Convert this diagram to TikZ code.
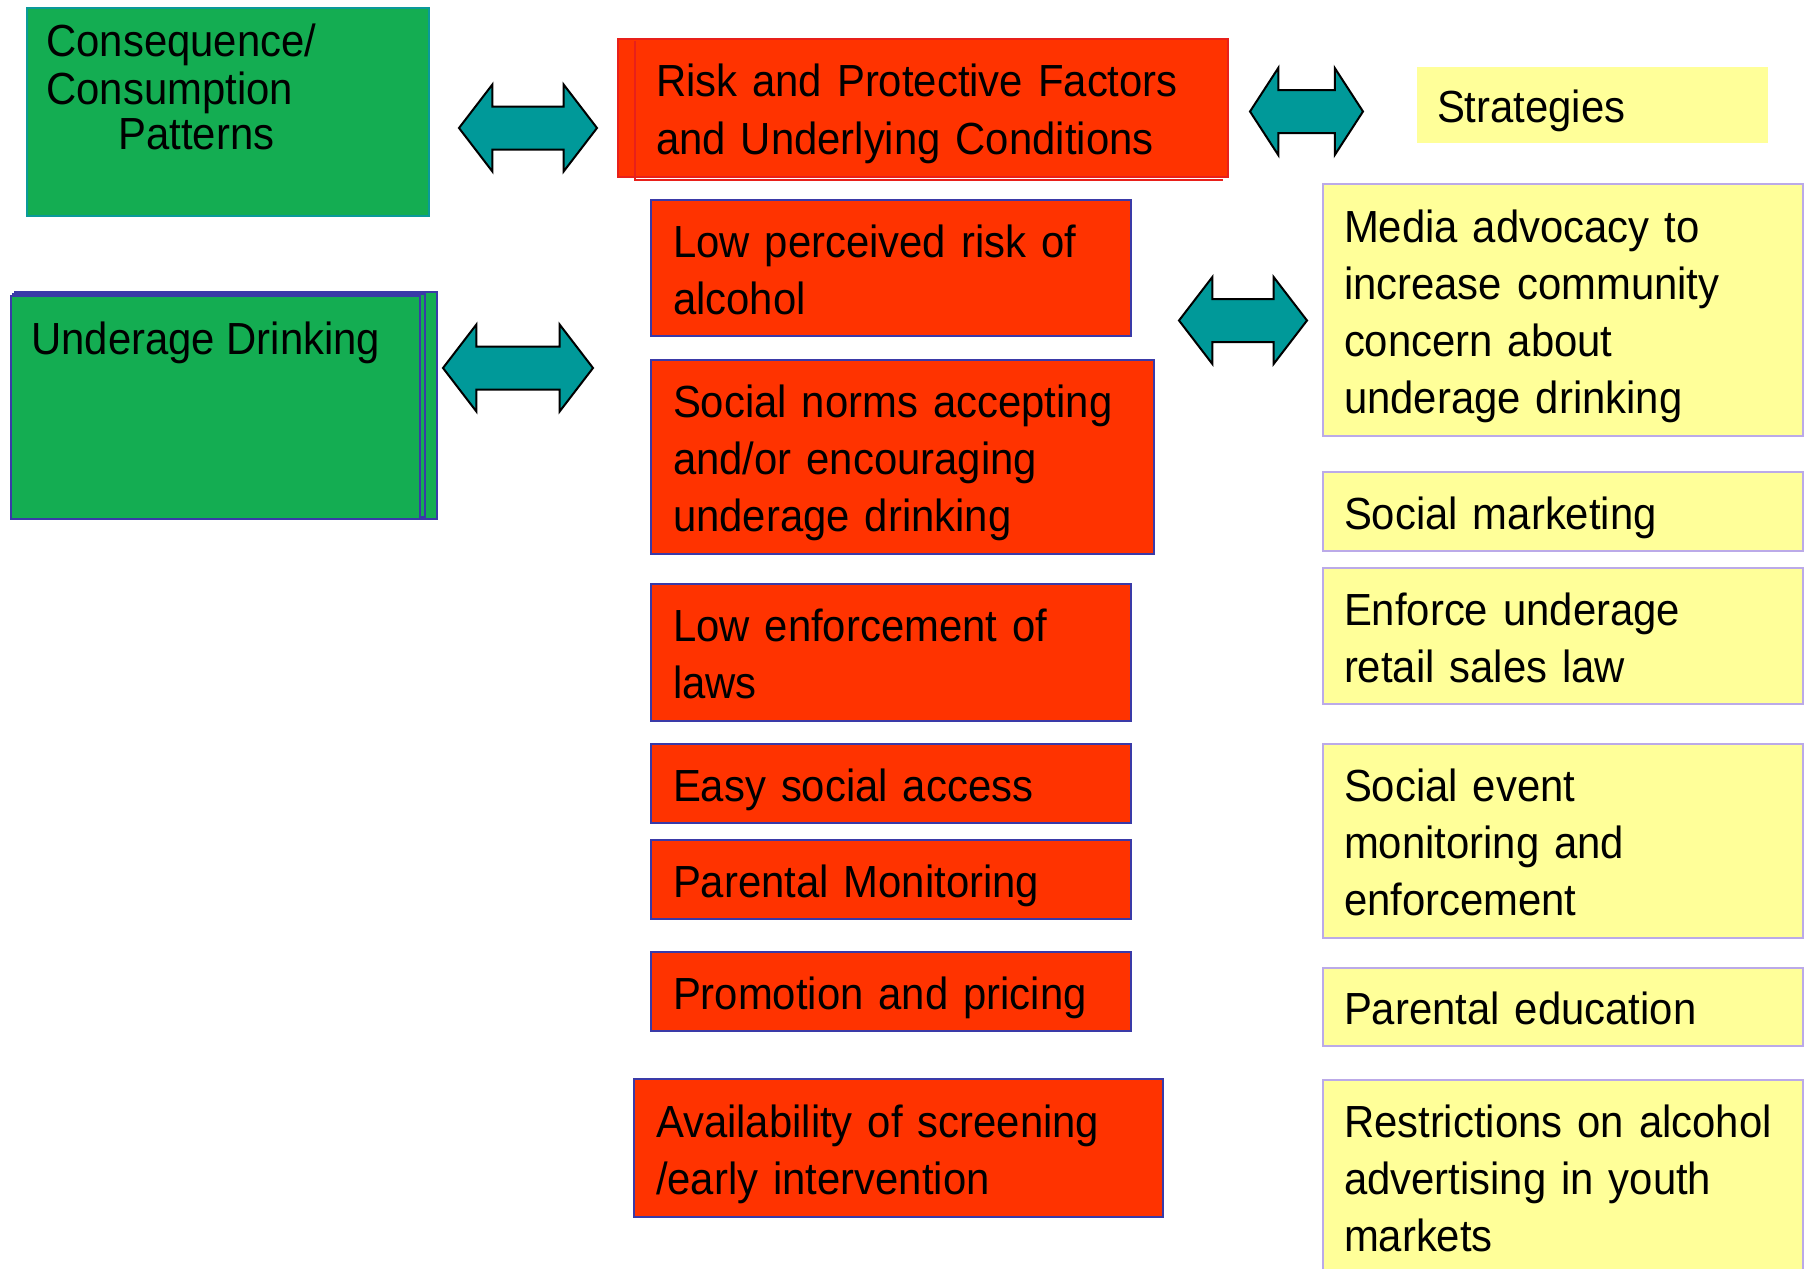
\documentclass[tikz,border=0pt]{standalone}
\usepackage{fontspec}
\setmainfont[FakeStretch=0.93]{Liberation Sans}
\usetikzlibrary{positioning,shapes.arrows}

\definecolor{riskred}{HTML}{FF3300}
\definecolor{edgeblue}{HTML}{3A3AA8}
\definecolor{titlered}{HTML}{E8201A}
\definecolor{leafgreen}{HTML}{14AD52}
\definecolor{edgeteal}{HTML}{0A9A9A}
\definecolor{stratyellow}{HTML}{FFFF99}
\definecolor{edgelilac}{HTML}{BBAAE8}
\definecolor{arrowteal}{HTML}{009999}

\newcommand{\boxfont}{\fontsize{22.5}{28.5}\selectfont}

\tikzset{
  textrules/.style={execute at begin node={\rule{0pt}{22.5pt}}, execute at end node={\rule[-5pt]{0pt}{0pt}}},
  riskbox/.style={draw=edgeblue, fill=riskred, line width=1pt, inner xsep=11pt, inner ysep=0pt, align=left, font=\boxfont, textrules},
  stratbox/.style={draw=edgelilac, fill=stratyellow, line width=1pt, inner xsep=10.5pt, inner ysep=0pt, align=left, font=\boxfont, textrules},
  greenbox/.style={draw=edgeblue, fill=leafgreen, line width=1pt},
  greentext/.style={inner sep=0pt, align=left, font=\fontsize{22.5}{22.5}\selectfont},
  dblarrow/.style={double arrow, draw=black, fill=arrowteal, line width=1pt, inner xsep=0pt, inner ysep=10.25pt, minimum width=42.5pt, double arrow head extend=11pt, double arrow tip angle=105}
}

\begin{document}
\begin{tikzpicture}[x=0.5pt, y=-0.5pt]
  \clip (0,0) rectangle (1812,1269);

  % left column
  \node[greenbox, draw=edgeteal, minimum width=201pt, minimum height=104pt] (conseq) at (228,112) {};
  \node[greentext, below right=8pt and 10pt of conseq.north west] (conseqtxt) {\strut Consequence/\\Consumption\\\hspace*{36pt}Patterns};

  \draw[greenbox] (15,292) rectangle (437,519);
  \draw[greenbox] (13,294) rectangle (425,517);
  \node[greenbox, minimum width=204.5pt, minimum height=111.5pt] (underage) at (215.5,407.5) {};
  \node[greentext, below right=13pt and 10.5pt of underage.north west] (underagetxt) {\strut Underage Drinking};

  % middle column
  \node[riskbox, draw=titlered, inner xsep=19pt, text width=267pt, minimum height=69pt] (risk) at (923,108) {Risk and Protective Factors\\and Underlying Conditions};
  \draw[titlered, line width=1pt] (635,41) -- (635,180) -- (1223,180);

  \node[riskbox, text width=218pt, minimum height=68pt] (lowrisk) at (891,268) {Low perceived risk of\\alcohol};
  \node[riskbox, text width=229.5pt, minimum height=97pt] (norms) at (902.5,457) {Social norms accepting\\and/or encouraging\\underage drinking};
  \node[riskbox, text width=218pt, minimum height=68.5pt] (lawenf) at (891,652.5) {Low enforcement of\\laws};
  \node[riskbox, text width=218pt, minimum height=39.5pt] (access) at (891,783.5) {Easy social access};
  \node[riskbox, text width=218pt, minimum height=39.5pt] (parentmon) at (891,879.5) {Parental Monitoring};
  \node[riskbox, text width=218pt, minimum height=39.5pt] (promo) at (891,991.5) {Promotion and pricing};
  \node[riskbox, text width=242.5pt, minimum height=69pt] (screening) at (898.5,1148) {Availability of screening\\/early intervention};

  % right column
  \node[stratbox, draw=none, inner xsep=10pt, text width=155.5pt, minimum height=38pt] (strat) at (1592.5,105) {Strategies};
  \node[stratbox, text width=219pt, minimum height=126pt] (media) at (1563,310) {Media advocacy to\\increase community\\concern about\\underage drinking};
  \node[stratbox, text width=219pt, minimum height=39.5pt] (socmark) at (1563,511.5) {Social marketing};
  \node[stratbox, text width=219pt, minimum height=68pt] (retail) at (1563,636) {Enforce underage\\retail sales law};
  \node[stratbox, text width=219pt, minimum height=97pt] (eventmon) at (1563,841) {Social event\\monitoring and\\enforcement};
  \node[stratbox, text width=219pt, minimum height=39pt] (parented) at (1563,1007) {Parental education};
  \node[stratbox, text width=219pt, minimum height=97pt] (adrestrict) at (1563,1177) {Restrictions on alcohol\\advertising in youth\\markets};

  % block arrows
  \node[dblarrow, minimum height=69pt] (arrconseq) at (528,128) {};
  \node[dblarrow, minimum height=75pt] (arrunder) at (518,368) {};
  \node[dblarrow, minimum height=56.5pt, double arrow tip angle=114] (arrstrat) at (1306.5,111.5) {};
  \node[dblarrow, minimum height=64pt] (arrmedia) at (1243,320.5) {};
\end{tikzpicture}
\end{document}
